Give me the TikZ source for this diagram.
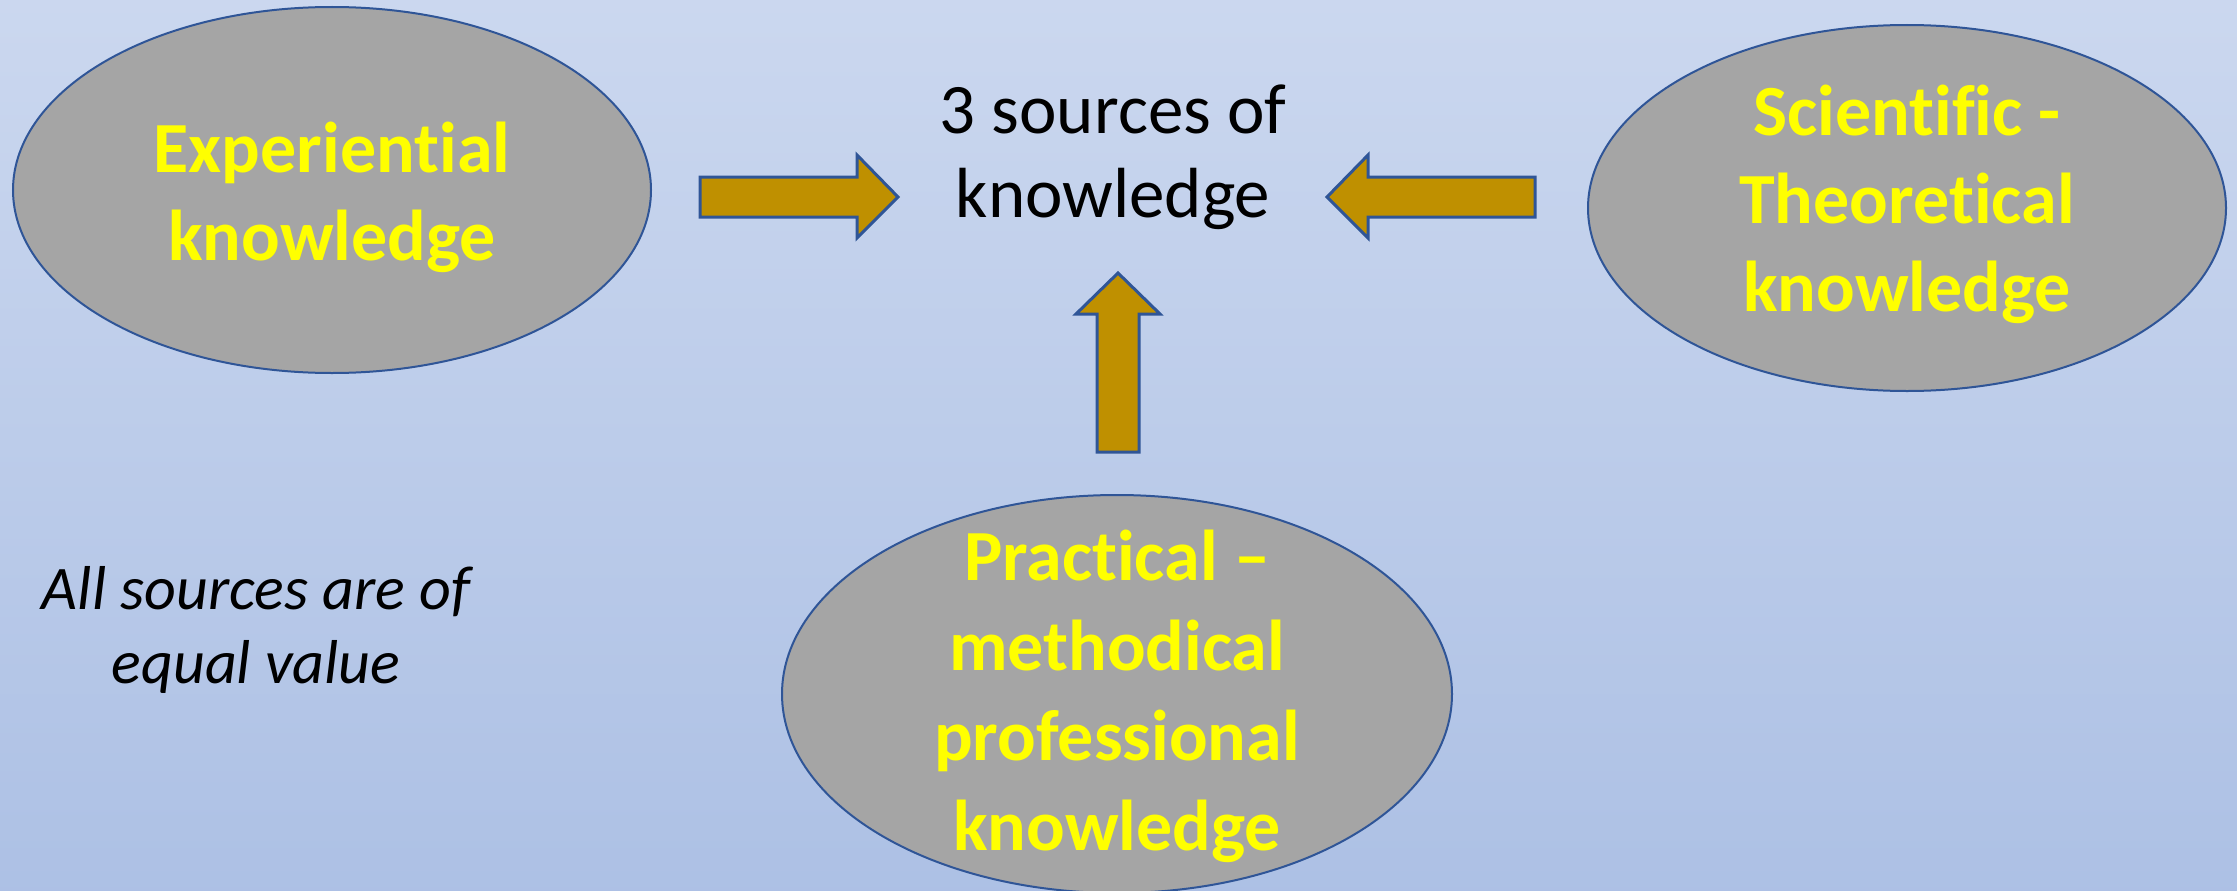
\documentclass[tikz,border=0pt]{standalone}
\usepackage{fontspec}
\setmainfont{Carlito}[Ligatures=NoCommon]
\usetikzlibrary{shapes.geometric}
\definecolor{bgtop}{HTML}{DAE3F4}
\definecolor{bgmid}{HTML}{ABBFE4}
\definecolor{bgbot}{HTML}{B6C9E8}
\definecolor{ellfill}{HTML}{A5A5A5}
\definecolor{edgeblue}{HTML}{2F5597}
\definecolor{arrowfill}{HTML}{BF9000}
\definecolor{txtyellow}{HTML}{FFFF00}
\pgfdeclareverticalshading{bgshade}{100bp}{color(0bp)=(bgbot); color(22bp)=(bgmid); color(100bp)=(bgtop)}
\tikzset{
  source/.style={ellipse, draw=edgeblue, line width=2pt, fill=ellfill, inner sep=0pt,
    minimum width=638pt, minimum height=366pt},
  sourcetext/.style={text=txtyellow, align=center, inner sep=0pt,
    font=\fontsize{72}{88}\selectfont\bfseries},
  blockarrow/.style={draw=edgeblue, line width=3pt, fill=arrowfill, line join=miter},
  title/.style={align=center, font=\fontsize{71}{84}\selectfont, text=black},
  note/.style={align=center, font=\fontsize{62}{74}\selectfont\itshape, text=black}
}
\begin{document}
\begin{tikzpicture}[x=1pt, y=-1pt]
\useasboundingbox (0,0) rectangle (2237,891);
\shade[shading=bgshade] (0,0) rectangle (2237,891);
% ellipses
\node[source] (exp) at (332,190) {};
\node[sourcetext] (exptext) at (332,197) {Experiential\\knowledge};
\node[source] (sci) at (1907,208) {};
\node[sourcetext] (scitext) at (1907,204) {Scientific -\\Theoretical\\knowledge};
\node[source, minimum width=670pt, minimum height=398pt] (pra) at (1117,694) {};
\node[sourcetext, font=\fontsize{72}{90}\selectfont\bfseries] (pratext) at (1117,696) {Practical --\\methodical\\professional\\knowledge};
% centre text
\node[title] (centre) at (1113,157) {3 sources of\\knowledge};
% note
\node[note] (note) at (256,630) {All sources are of\\equal value};
% block arrows
\draw[blockarrow] (700,177) -- (857,177) -- (857,155) -- (898,197) -- (857,238) -- (857,217) -- (700,217) -- cycle;
\draw[blockarrow] (1535,177) -- (1368,177) -- (1368,155) -- (1327,197) -- (1368,238) -- (1368,217) -- (1535,217) -- cycle;
\draw[blockarrow] (1097,452) -- (1097,314) -- (1076,314) -- (1118,273) -- (1160,314) -- (1139,314) -- (1139,452) -- cycle;
\end{tikzpicture}
\end{document}
